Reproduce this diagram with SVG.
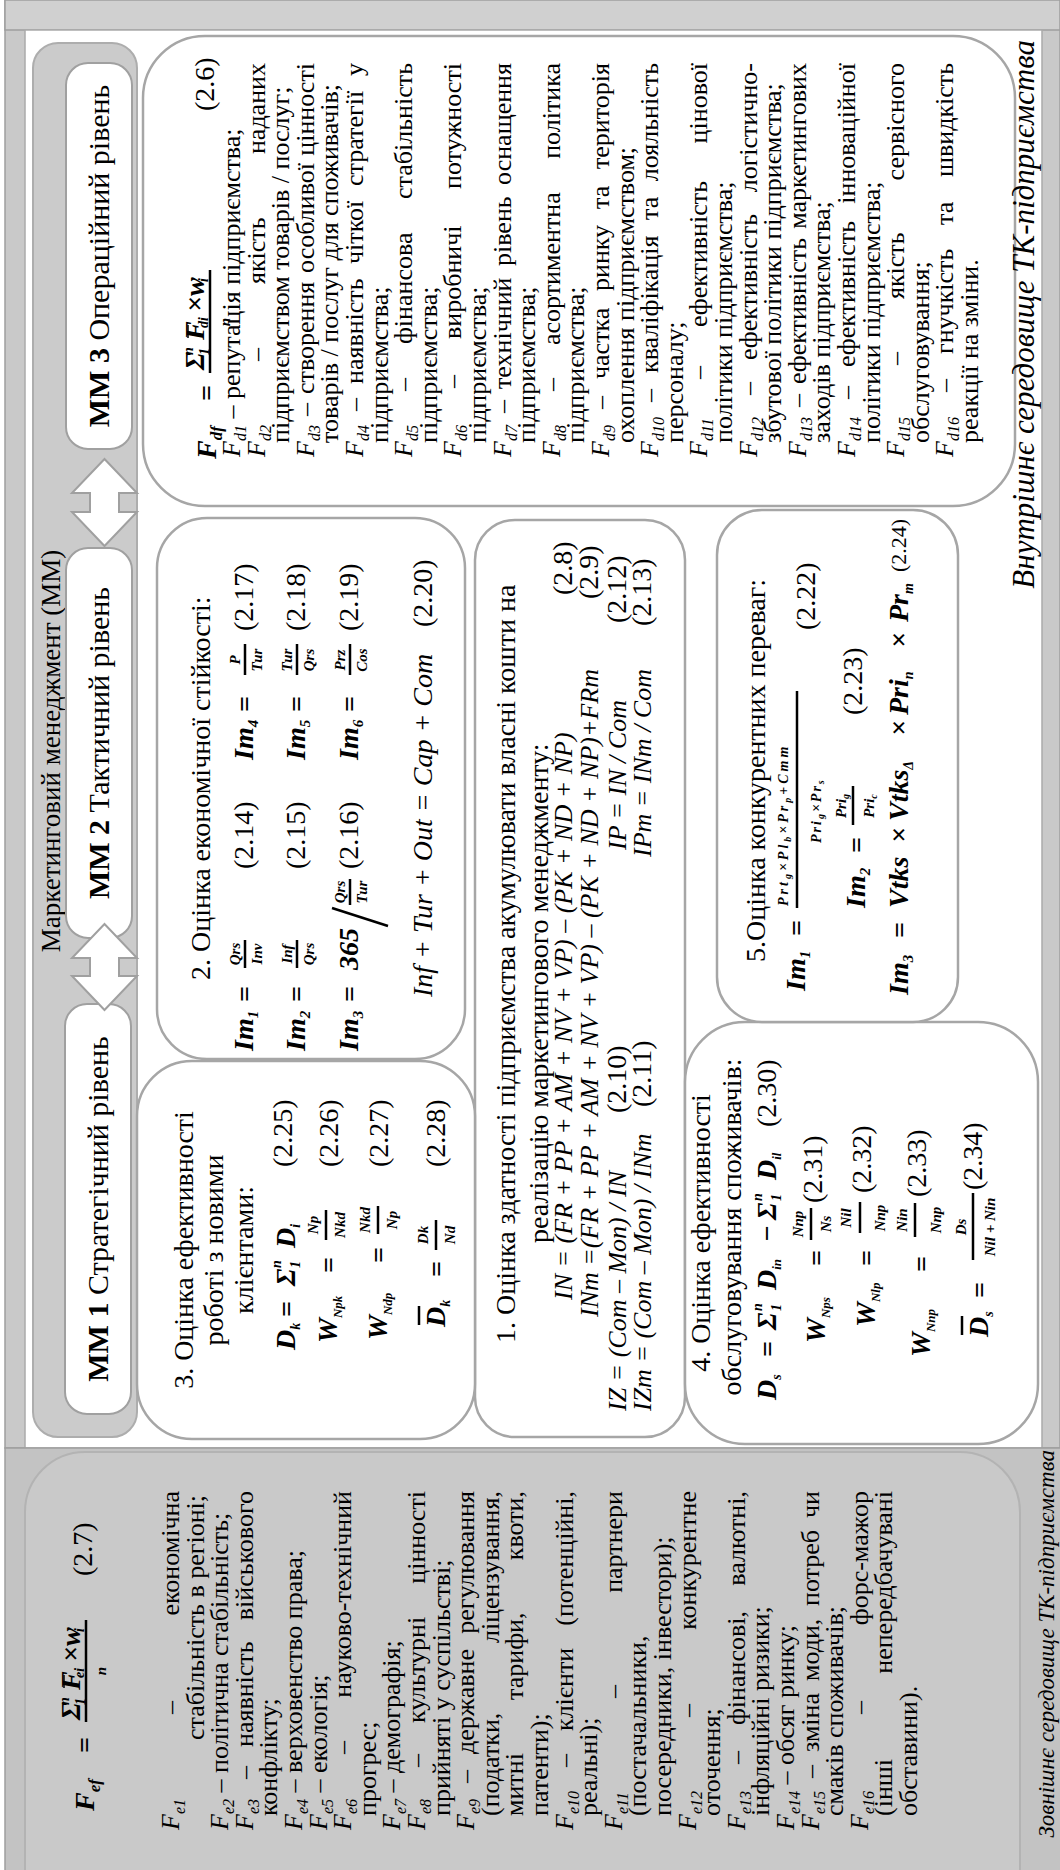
<svg xmlns="http://www.w3.org/2000/svg" width="1060" height="1870" viewBox="0 0 1060 1870">
<style>
text{font-family:"Liberation Serif","Times New Roman",serif;fill:#000}
.L{font-size:26px}
.T{font-size:28px}
.it{font-style:italic}
.sb{font-size:16px;font-style:italic}
.e{text-anchor:end}
.m{text-anchor:middle}
.fb{font-weight:bold;font-style:italic;font-size:28px}
.fs{font-size:15px;font-weight:bold;font-style:italic;text-anchor:middle}
.fsb{font-size:14px;font-weight:bold;font-style:italic}
.bx{fill:#fff;stroke:#a6a6a6;stroke-width:2.5}
.pill{fill:#fff;stroke:#a0a0a0;stroke-width:2}
.arr{fill:#fff;stroke:#a0a0a0;stroke-width:2}
.bar{stroke:#000;stroke-width:2.5}
.pt{font-size:30px;text-anchor:middle}
.lab{font-size:31px;font-style:italic;text-anchor:end}
.lab2{font-size:23px;font-style:italic;text-anchor:end}
</style>
<rect width="1060" height="1870" fill="#fff"/>
<g transform="translate(0,1870) rotate(-90)">
<g id="frame">
<rect x="422" y="5" width="1448" height="1055" fill="#c9c9c9" stroke="#9e9e9e" stroke-width="1.5"/>
<rect x="1840" y="5" width="30" height="1055" fill="#d0d0d0" stroke="#9e9e9e" stroke-width="1.5"/>
<rect x="422" y="25" width="1418" height="1017" fill="#fff" stroke="#aaa" stroke-width="1.5"/>
</g>
<g id="external">
<rect x="-2" y="5" width="424" height="1057" fill="#c3c3c3" stroke="#9e9e9e" stroke-width="1.5"/>
<rect x="-60" y="25" width="478" height="995" rx="60" fill="#c9c9c9" stroke="#b3b3b3" stroke-width="2"/>
<text class="fb" x="59" y="94" font-size="30">F<tspan font-size="17" dy="6">ef</tspan></text>
<text class="fb" x="117" y="94" font-size="30">=</text>
<text class="fb" x="150" y="80" font-size="20">Σ</text>
<text class="fsb" x="165" y="69" font-size="10">n</text>
<text class="fsb" x="165" y="85" font-size="10">1</text>
<text class="fb" x="180" y="80" font-size="18">F</text>
<line x1="182" y1="64" x2="195" y2="64" stroke="#000" stroke-width="1.5"/>
<text class="fsb" x="192" y="84" font-size="11">ei</text>
<text class="fb" x="208" y="80" font-size="16">×</text>
<text class="fb" x="224" y="80" font-size="18">w</text>
<text class="fsb" x="238" y="84" font-size="11">i</text>
<line class="bar" x1="148" y1="86" x2="250" y2="86"/>
<text class="fs" x="199" y="106">n</text>
<text class="T" x="294" y="92">(2.7)</text>
<text class="L" x="40" y="179"><tspan class="it">F</tspan><tspan class="sb" dy="6">e1</tspan><tspan x="156" dy="-6">–</tspan></text><text class="L e" x="379" y="179">економічна</text>
<text class="L" x="130" y="203.6">стабільність в регіоні;</text>
<text class="L" x="40" y="228.2"><tspan class="it">F</tspan><tspan class="sb" dy="6">e2</tspan><tspan dy="-6"> – політична стабільність;</tspan></text>
<text class="L" x="40" y="252.8"><tspan class="it">F</tspan><tspan class="sb" dy="6">e3</tspan><tspan x="91" dy="-6">–</tspan><tspan x="123">наявність</tspan></text><text class="L e" x="379" y="252.8">військового</text>
<text class="L" x="54" y="277.4">конфлікту;</text>
<text class="L" x="40" y="302"><tspan class="it">F</tspan><tspan class="sb" dy="6">e4</tspan><tspan dy="-6"> – верховенство права;</tspan></text>
<text class="L" x="40" y="326.6"><tspan class="it">F</tspan><tspan class="sb" dy="6">e5</tspan><tspan dy="-6"> – екологія;</tspan></text>
<text class="L" x="40" y="351.2"><tspan class="it">F</tspan><tspan class="sb" dy="6">e6</tspan><tspan x="116" dy="-6">–</tspan></text><text class="L e" x="379" y="351.2">науково-технічний</text>
<text class="L" x="54" y="375.8">прогрес;</text>
<text class="L" x="40" y="400.4"><tspan class="it">F</tspan><tspan class="sb" dy="6">e7</tspan><tspan dy="-6"> – демографія;</tspan></text>
<text class="L" x="40" y="425"><tspan class="it">F</tspan><tspan class="sb" dy="6">e8</tspan><tspan x="103" dy="-6">–</tspan><tspan x="147">культурні</tspan></text><text class="L e" x="379" y="425">цінності</text>
<text class="L" x="54" y="449.6">прийняті у суспільстві;</text>
<text class="L" x="40" y="474.2"><tspan class="it">F</tspan><tspan class="sb" dy="6">e9</tspan><tspan x="87" dy="-6">–</tspan><tspan x="116">державне</tspan></text><text class="L e" x="379" y="474.2">регулювання</text>
<text class="L" x="54" y="498.8">(податки,</text><text class="L e" x="379" y="498.8">ліцензування,</text>
<text class="L" x="54" y="523.4">митні<tspan x="170">тарифи,</tspan></text><text class="L e" x="379" y="523.4">квоти,</text>
<text class="L" x="54" y="548">патенти);</text>
<text class="L" x="40" y="572.6"><tspan class="it">F</tspan><tspan class="sb" dy="6">e10</tspan><tspan x="103" dy="-6">–</tspan><tspan x="139">клієнти</tspan></text><text class="L e" x="379" y="572.6">(потенційні,</text>
<text class="L" x="54" y="597.2">реальні);</text>
<text class="L" x="40" y="621.8"><tspan class="it">F</tspan><tspan class="sb" dy="6">e11</tspan><tspan x="172" dy="-6">–</tspan></text><text class="L e" x="379" y="621.8">партнери</text>
<text class="L" x="54" y="646.4">(постачальники,</text>
<text class="L" x="54" y="671">посередники, інвестори);</text>
<text class="L" x="40" y="695.6"><tspan class="it">F</tspan><tspan class="sb" dy="6">e12</tspan><tspan x="153" dy="-6">–</tspan></text><text class="L e" x="379" y="695.6">конкурентне</text>
<text class="L" x="54" y="720.2">оточення;</text>
<text class="L" x="40" y="744.8"><tspan class="it">F</tspan><tspan class="sb" dy="6">e13</tspan><tspan x="106" dy="-6">–</tspan><tspan x="145">фінансові,</tspan></text><text class="L e" x="379" y="744.8">валютні,</text>
<text class="L" x="54" y="769.4">інфляційні ризики;</text>
<text class="L" x="40" y="794"><tspan class="it">F</tspan><tspan class="sb" dy="6">e14</tspan><tspan dy="-6"> – обсяг ринку;</tspan></text>
<text class="L" x="40" y="818.6"><tspan class="it">F</tspan><tspan class="sb" dy="6">e15</tspan><tspan x="92" dy="-6">–</tspan><tspan x="118">зміна</tspan><tspan x="189">моди,</tspan><tspan x="264">потреб</tspan></text><text class="L e" x="379" y="818.6">чи</text>
<text class="L" x="54" y="843.2">смаків споживачів;</text>
<text class="L" x="40" y="867.8"><tspan class="it">F</tspan><tspan class="sb" dy="6">e16</tspan><tspan x="156" dy="-6">–</tspan></text><text class="L e" x="379" y="867.8">форс-мажор</text>
<text class="L" x="54" y="892.4">(інші</text><text class="L e" x="379" y="892.4">непередбачувані</text>
<text class="L" x="54" y="917">обставини).</text>
<text class="lab2" x="420" y="1054">Зовнішнє середовище ТК-підприємства</text>
</g>
<g id="mm-band">
<rect x="433" y="33" width="1394" height="104" rx="25" fill="#cbcbcb" stroke="#adadad" stroke-width="2"/>
<text class="m" x="1119" y="60" font-size="27">Маркетинговий менеджмент (ММ)</text>
</g>
<g id="mm3">
<rect class="pill" x="1421" y="66" width="386" height="66" rx="22"/>
<text class="pt" x="1614" y="109"><tspan font-weight="bold">ММ 3</tspan> Операційний рівень</text>
</g>
<g id="mm2">
<rect class="pill" x="932" y="66" width="390" height="66" rx="22"/>
<text class="pt" x="1127" y="109"><tspan font-weight="bold">ММ 2</tspan> Тактичний рівень</text>
</g>
<g id="mm1">
<rect class="pill" x="456" y="65" width="410" height="66" rx="22"/>
<text class="pt" x="661" y="108"><tspan font-weight="bold">ММ 1</tspan> Стратегічний рівень</text>
</g>
<g id="connectors">
<path class="arr" d="M1324,104.5 L1358,72 L1358,90 L1377,90 L1377,72 L1411,104.5 L1377,137 L1377,119 L1358,119 L1358,137 Z"/>
<path class="arr" d="M860,104.5 L894,72 L894,90 L912,90 L912,72 L946,104.5 L912,137 L912,119 L894,119 L894,137 Z"/>
</g>
<g id="box-mm3">
<rect class="bx" x="1364" y="143" width="470" height="872" rx="62"/>
<text class="fb" x="1411" y="216" font-size="30">F<tspan font-size="17" dy="6">df</tspan></text>
<text class="fb" x="1469" y="216" font-size="30">=</text>
<text class="fb" x="1500" y="204" font-size="20">Σ</text>
<text class="fsb" x="1515" y="193" font-size="10">n</text>
<text class="fsb" x="1515" y="209" font-size="10">1</text>
<text class="fb" x="1530" y="204" font-size="18">F</text>
<line x1="1532" y1="188" x2="1545" y2="188" stroke="#000" stroke-width="1.5"/>
<text class="fsb" x="1542" y="208" font-size="11">di</text>
<text class="fb" x="1558" y="204" font-size="16">×</text>
<text class="fb" x="1574" y="204" font-size="18">w</text>
<text class="fsb" x="1588" y="208" font-size="11">i</text>
<line class="bar" x1="1497" y1="210" x2="1600" y2="210"/>
<text class="fs" x="1548" y="230">n</text>
<text class="T" x="1759" y="214">(2.6)</text>
<text class="L" x="1413" y="240"><tspan class="it">F</tspan><tspan class="sb" dy="6">d1</tspan><tspan dy="-6"> – репутація підприємства;</tspan></text>
<text class="L" x="1413" y="264.6"><tspan class="it">F</tspan><tspan class="sb" dy="6">d2</tspan><tspan x="1509" dy="-6">–</tspan><tspan x="1586">якість</tspan></text><text class="L e" x="1807" y="264.6">наданих</text>
<text class="L" x="1427" y="289.2">підприємством товарів / послуг;</text>
<text class="L" x="1413" y="313.8"><tspan class="it">F</tspan><tspan class="sb" dy="6">d3</tspan><tspan x="1454" dy="-6">–</tspan><tspan x="1476">створення</tspan><tspan x="1597">особливої</tspan></text><text class="L e" x="1807" y="313.8">цінності</text>
<text class="L" x="1427" y="338.4">товарів / послуг для споживачів;</text>
<text class="L" x="1413" y="363"><tspan class="it">F</tspan><tspan class="sb" dy="6">d4</tspan><tspan x="1459" dy="-6">–</tspan><tspan x="1486">наявність</tspan><tspan x="1606">чіткої</tspan><tspan x="1684">стратегії</tspan></text><text class="L e" x="1807" y="363">у</text>
<text class="L" x="1427" y="387.6">підприємства;</text>
<text class="L" x="1413" y="412.2"><tspan class="it">F</tspan><tspan class="sb" dy="6">d5</tspan><tspan x="1479" dy="-6">–</tspan><tspan x="1526">фінансова</tspan></text><text class="L e" x="1807" y="412.2">стабільність</text>
<text class="L" x="1427" y="436.8">підприємства;</text>
<text class="L" x="1413" y="461.4"><tspan class="it">F</tspan><tspan class="sb" dy="6">d6</tspan><tspan x="1482" dy="-6">–</tspan><tspan x="1531">виробничі</tspan></text><text class="L e" x="1807" y="461.4">потужності</text>
<text class="L" x="1427" y="486">підприємства;</text>
<text class="L" x="1413" y="510.6"><tspan class="it">F</tspan><tspan class="sb" dy="6">d7</tspan><tspan x="1457" dy="-6">–</tspan><tspan x="1481">технічний</tspan><tspan x="1604">рівень</tspan></text><text class="L e" x="1807" y="510.6">оснащення</text>
<text class="L" x="1427" y="535.2">підприємства;</text>
<text class="L" x="1413" y="559.8"><tspan class="it">F</tspan><tspan class="sb" dy="6">d8</tspan><tspan x="1479" dy="-6">–</tspan><tspan x="1525">асортиментна</tspan></text><text class="L e" x="1807" y="559.8">політика</text>
<text class="L" x="1427" y="584.4">підприємства;</text>
<text class="L" x="1413" y="609"><tspan class="it">F</tspan><tspan class="sb" dy="6">d9</tspan><tspan x="1461" dy="-6">–</tspan><tspan x="1491">частка</tspan><tspan x="1579">ринку</tspan><tspan x="1661">та</tspan></text><text class="L e" x="1807" y="609">територія</text>
<text class="L" x="1427" y="633.6">охоплення підприємством;</text>
<text class="L" x="1413" y="658.2"><tspan class="it">F</tspan><tspan class="sb" dy="6">d10</tspan><tspan x="1468" dy="-6">–</tspan><tspan x="1497">кваліфікація</tspan><tspan x="1650">та</tspan></text><text class="L e" x="1807" y="658.2">лояльність</text>
<text class="L" x="1427" y="682.8">персоналу;</text>
<text class="L" x="1413" y="707.4"><tspan class="it">F</tspan><tspan class="sb" dy="6">d11</tspan><tspan x="1491" dy="-6">–</tspan><tspan x="1543">ефективність</tspan></text><text class="L e" x="1807" y="707.4">цінової</text>
<text class="L" x="1427" y="732">політики підприємства;</text>
<text class="L" x="1413" y="756.6"><tspan class="it">F</tspan><tspan class="sb" dy="6">d12</tspan><tspan x="1475" dy="-6">–</tspan><tspan x="1510">ефективність</tspan></text><text class="L e" x="1807" y="756.6">логістично-</text>
<text class="L" x="1427" y="781.2">збутової політики підприємства;</text>
<text class="L" x="1413" y="805.8"><tspan class="it">F</tspan><tspan class="sb" dy="6">d13</tspan><tspan x="1463" dy="-6">–</tspan><tspan x="1486">ефективність</tspan></text><text class="L e" x="1807" y="805.8">маркетингових</text>
<text class="L" x="1427" y="830.4">заходів підприємства;</text>
<text class="L" x="1413" y="855"><tspan class="it">F</tspan><tspan class="sb" dy="6">d14</tspan><tspan x="1471" dy="-6">–</tspan><tspan x="1503">ефективність</tspan></text><text class="L e" x="1807" y="855">інноваційної</text>
<text class="L" x="1427" y="879.6">політики підприємства;</text>
<text class="L" x="1413" y="904.2"><tspan class="it">F</tspan><tspan class="sb" dy="6">d15</tspan><tspan x="1505" dy="-6">–</tspan><tspan x="1571">якість</tspan></text><text class="L e" x="1807" y="904.2">сервісного</text>
<text class="L" x="1427" y="928.8">обслуговування;</text>
<text class="L" x="1413" y="953.4"><tspan class="it">F</tspan><tspan class="sb" dy="6">d16</tspan><tspan x="1478" dy="-6">–</tspan><tspan x="1516">гнучкість</tspan><tspan x="1645">та</tspan></text><text class="L e" x="1807" y="953.4">швидкість</text>
<text class="L" x="1427" y="978">реакції на зміни.</text>
</g>
<g id="box2">
<rect class="bx" x="811" y="157" width="541" height="308" rx="50"/>
<text class="T" x="890" y="210">2. Оцінка економічної стійкості:</text>
<text class="fb" x="819" y="253" font-size="26">Im<tspan font-size="15" dy="5">1</tspan></text>
<text class="fb" x="868" y="254" font-size="26">=</text>
<text class="fs" x="916" y="240">Qrs</text><line class="bar" x1="902" y1="245" x2="930" y2="245"/><text class="fs" x="916" y="262">Inv</text>
<text class="T" x="1001" y="253">(2.14)</text>
<text class="fb" x="1110" y="253" font-size="26">Im<tspan font-size="15" dy="5">4</tspan></text>
<text class="fb" x="1158" y="254" font-size="26">=</text>
<text class="fs" x="1210" y="240">P</text><line class="bar" x1="1195" y1="245" x2="1226" y2="245"/><text class="fs" x="1210" y="262">Tur</text>
<text class="T" x="1239" y="253">(2.17)</text>
<text class="fb" x="819" y="305" font-size="26">Im<tspan font-size="15" dy="5">2</tspan></text>
<text class="fb" x="868" y="306" font-size="26">=</text>
<text class="fs" x="916" y="292">Inf</text><line class="bar" x1="902" y1="297" x2="930" y2="297"/><text class="fs" x="916" y="314">Qrs</text>
<text class="T" x="1001" y="305">(2.15)</text>
<text class="fb" x="1110" y="305" font-size="26">Im<tspan font-size="15" dy="5">5</tspan></text>
<text class="fb" x="1158" y="306" font-size="26">=</text>
<text class="fs" x="1210" y="292">Tur</text><line class="bar" x1="1195" y1="297" x2="1226" y2="297"/><text class="fs" x="1210" y="314">Qrs</text>
<text class="T" x="1239" y="305">(2.18)</text>
<text class="fb" x="819" y="358" font-size="26">Im<tspan font-size="15" dy="5">3</tspan></text>
<text class="fb" x="868" y="359" font-size="26">=</text>
<text class="fb" x="900" y="358" font-size="26">365</text>
<line x1="944" y1="388" x2="962" y2="332" stroke="#000" stroke-width="2.5"/>
<text class="fs" x="978" y="345">Qrs</text><line class="bar" x1="965" y1="350" x2="991" y2="350"/><text class="fs" x="978" y="367">Tur</text>
<text class="T" x="1001" y="358">(2.16)</text>
<text class="fb" x="1110" y="358" font-size="26">Im<tspan font-size="15" dy="5">6</tspan></text>
<text class="fb" x="1158" y="359" font-size="26">=</text>
<text class="fs" x="1210" y="345">Prz</text><line class="bar" x1="1195" y1="350" x2="1226" y2="350"/><text class="fs" x="1210" y="367">Cos</text>
<text class="T" x="1239" y="358">(2.19)</text>
<text class="T it" x="873" y="432">Inf + Tur + Out = Cap + Com</text>
<text class="T" x="1243" y="432">(2.20)</text>
</g>
<g id="box1">
<rect class="bx" x="433" y="475" width="917" height="210" rx="40"/>
<text class="T" x="527" y="515">1. Оцінка здатності підприємства акумулювати власні кошти на</text>
<text class="T" x="627" y="548">реалізацію маркетингового менеджменту:</text>
<text class="it" font-size="26" x="570" y="572">IN = (FR + PP + AM + NV + VP) – (PK + ND + NP)</text>
<text class="T" x="1275" y="572">(2.8)</text>
<text class="it" font-size="26" x="553" y="598">INm =(FR + PP + AM + NV + VP) – (PK + ND + NP)+FRm</text>
<text class="T" x="1271" y="598">(2.9)</text>
<text class="it" font-size="26" x="459" y="626">IZ = (Com – Mon) / IN</text>
<text class="T" x="757" y="626">(2.10)</text>
<text class="it" font-size="26" x="1020" y="626">IP = IN / Com</text>
<text class="T" x="1247" y="626">(2.12)</text>
<text class="it" font-size="26" x="459" y="651">IZm = (Com – Mon) / INm</text>
<text class="T" x="763" y="651">(2.11)</text>
<text class="it" font-size="26" x="1013" y="651">IPm = INm / Com</text>
<text class="T" x="1244" y="651">(2.13)</text>
</g>
<g id="box3">
<rect class="bx" x="431" y="137" width="378" height="338" rx="55"/>
<text class="T m" x="620" y="193">3. Оцінка ефективності</text>
<text class="T m" x="620" y="223">роботі з новими</text>
<text class="T m" x="620" y="253">клієнтами:</text>
<text class="fb" x="520" y="295">D<tspan font-size="14" dy="5">k</tspan></text>
<text class="fb" x="553" y="296" font-size="26">=</text>
<text class="fb" x="584" y="295" font-size="26">Σ</text>
<text class="fsb" x="602" y="281" font-size="10">n</text>
<text class="fsb" x="602" y="300" font-size="10">1</text>
<text class="fb" x="622" y="295">D<tspan font-size="14" dy="5">i</tspan></text>
<text class="T" x="703" y="292">(2.25)</text>
<text class="fb" x="527" y="337">W<tspan font-size="13" dy="5">Npk</tspan></text>
<text class="fb" x="597" y="338" font-size="26">=</text>
<text class="fs" x="645" y="318">Np</text><line class="bar" x1="630" y1="326" x2="660" y2="326"/><text class="fs" x="645" y="345">Nkd</text>
<text class="T" x="703" y="338">(2.26)</text>
<text class="fb" x="530" y="387">W<tspan font-size="13" dy="5">Ndp</tspan></text>
<text class="fb" x="607" y="388" font-size="26">=</text>
<text class="fs" x="650" y="370">Nkd</text><line class="bar" x1="636" y1="378" x2="664" y2="378"/><text class="fs" x="650" y="397">Np</text>
<text class="T" x="703" y="388">(2.27)</text>
<text class="fb" x="543" y="445">D<tspan font-size="14" dy="5">k</tspan></text>
<line x1="545" y1="419" x2="564" y2="419" stroke="#000" stroke-width="2.5"/>
<text class="fb" x="593" y="446" font-size="26">=</text>
<text class="fs" x="635" y="428">Dk</text><line class="bar" x1="620" y1="436" x2="650" y2="436"/><text class="fs" x="635" y="455">Nd</text>
<text class="T" x="703" y="445">(2.28)</text>
</g>
<g id="box4">
<rect class="bx" x="426" y="685" width="422" height="353" rx="60"/>
<text class="T m" x="637" y="710">4. Оцінка ефективності</text>
<text class="T m" x="643" y="741">обслуговування споживачів:</text>
<text class="fb" x="470" y="776">D<tspan font-size="14" dy="5">s</tspan></text>
<text class="fb" x="513" y="777" font-size="26">=</text>
<text class="fb" x="540" y="776" font-size="26">Σ</text>
<text class="fsb" x="559" y="762" font-size="10">n</text>
<text class="fsb" x="559" y="781" font-size="10">1</text>
<text class="fb" x="580" y="776">D<tspan font-size="13" dy="5">in</tspan></text>
<text class="fb" x="628" y="776" font-size="26">−</text>
<text class="fb" x="650" y="776" font-size="26">Σ</text>
<text class="fsb" x="669" y="762" font-size="10">n</text>
<text class="fsb" x="669" y="781" font-size="10">1</text>
<text class="fb" x="690" y="776">D<tspan font-size="13" dy="5">il</tspan></text>
<text class="T" x="743" y="776">(2.30)</text>
<text class="fb" x="527" y="825">W<tspan font-size="13" dy="5">Nps</tspan></text>
<text class="fb" x="604" y="826" font-size="26">=</text>
<text class="fs" x="646" y="803">Nnp</text><line class="bar" x1="630" y1="811" x2="662" y2="811"/><text class="fs" x="646" y="831">Ns</text>
<text class="T" x="667" y="822">(2.31)</text>
<text class="fb" x="543" y="875">W<tspan font-size="13" dy="5">Nlp</tspan></text>
<text class="fb" x="604" y="876" font-size="26">=</text>
<text class="fs" x="652" y="851">Nil</text><line class="bar" x1="637" y1="860" x2="668" y2="860"/><text class="fs" x="652" y="885">Nnp</text>
<text class="T" x="677" y="871">(2.32)</text>
<text class="fb" x="513" y="930">W<tspan font-size="13" dy="5">Nnp</tspan></text>
<text class="fb" x="598" y="931" font-size="26">=</text>
<text class="fs" x="650" y="907">Nin</text><line class="bar" x1="633" y1="915" x2="667" y2="915"/><text class="fs" x="650" y="941">Nnp</text>
<text class="T" x="673" y="926">(2.33)</text>
<text class="fb" x="533" y="988">D<tspan font-size="14" dy="5">s</tspan></text>
<line x1="535" y1="962" x2="554" y2="962" stroke="#000" stroke-width="2.5"/>
<text class="fb" x="572" y="989" font-size="26">=</text>
<text class="fs" x="643" y="966">Ds</text><line class="bar" x1="610" y1="973" x2="677" y2="973"/><text class="fs" x="643" y="995">Nil + Nin</text>
<text class="T" x="680" y="982">(2.34)</text>
</g>
<g id="box5">
<rect class="bx" x="848" y="717" width="512" height="241" rx="45"/>
<text class="T" x="908" y="765">5.Оцінка конкурентних переваг:</text>
<text class="fb" x="879" y="805" font-size="26">Im<tspan font-size="15" dy="5">1</tspan></text>
<text class="fb" x="934" y="806" font-size="26">=</text>
<text class="fsb" x="964" y="788" font-size="16" letter-spacing="3">Prt<tspan font-size="10" dy="3">g</tspan><tspan dy="-3">×Pl</tspan><tspan font-size="10" dy="3">b</tspan><tspan dy="-3">×Pr</tspan><tspan font-size="10" dy="3">p</tspan><tspan dy="-3">+Cmm</tspan></text>
<line class="bar" x1="962" y1="797" x2="1179" y2="797" stroke-width="3"/>
<text class="fsb" x="1027" y="821" font-size="16" letter-spacing="2">Pri<tspan font-size="10" dy="3">g</tspan><tspan dy="-3">×Pr</tspan><tspan font-size="10" dy="3">s</tspan></text>
<text class="T" x="1240" y="815">(2.22)</text>
<text class="fb" x="962" y="865" font-size="26">Im<tspan font-size="15" dy="5">2</tspan></text>
<text class="fb" x="1017" y="866" font-size="26">=</text>
<text class="fs" x="1064" y="846">Pri<tspan font-size="10" dy="3">g</tspan></text><line class="bar" x1="1045" y1="853" x2="1084" y2="853"/><text class="fs" x="1064" y="874">Pri<tspan font-size="10" dy="3">c</tspan></text>
<text class="T" x="1155" y="862">(2.23)</text>
<text class="fb" x="875" y="908" font-size="26">Im<tspan font-size="15" dy="5">3</tspan></text>
<text class="fb" x="932" y="909" font-size="26">=</text>
<text class="fb" x="962" y="908" font-size="26">Vtks</text>
<text class="fb" x="1027" y="908" font-size="24">×</text>
<text class="fb" x="1049" y="908" font-size="26">Vtks<tspan font-size="14" dy="5">Δ</tspan></text>
<text class="fb" x="1134" y="908" font-size="24">×</text>
<text class="fb" x="1155" y="908" font-size="26">Pri<tspan font-size="14" dy="5">n</tspan></text>
<text class="fb" x="1222" y="908" font-size="24">×</text>
<text class="fb" x="1248" y="908" font-size="26">Pr<tspan font-size="14" dy="5">m</tspan></text>
<text class="T" x="1298" y="906" style="font-size:22px">(2.24)</text>
</g>
<g id="labels">
<text class="lab" x="1830" y="1034">Внутрішнє середовище ТК-підприємства</text>
</g>
</g>
</svg>
